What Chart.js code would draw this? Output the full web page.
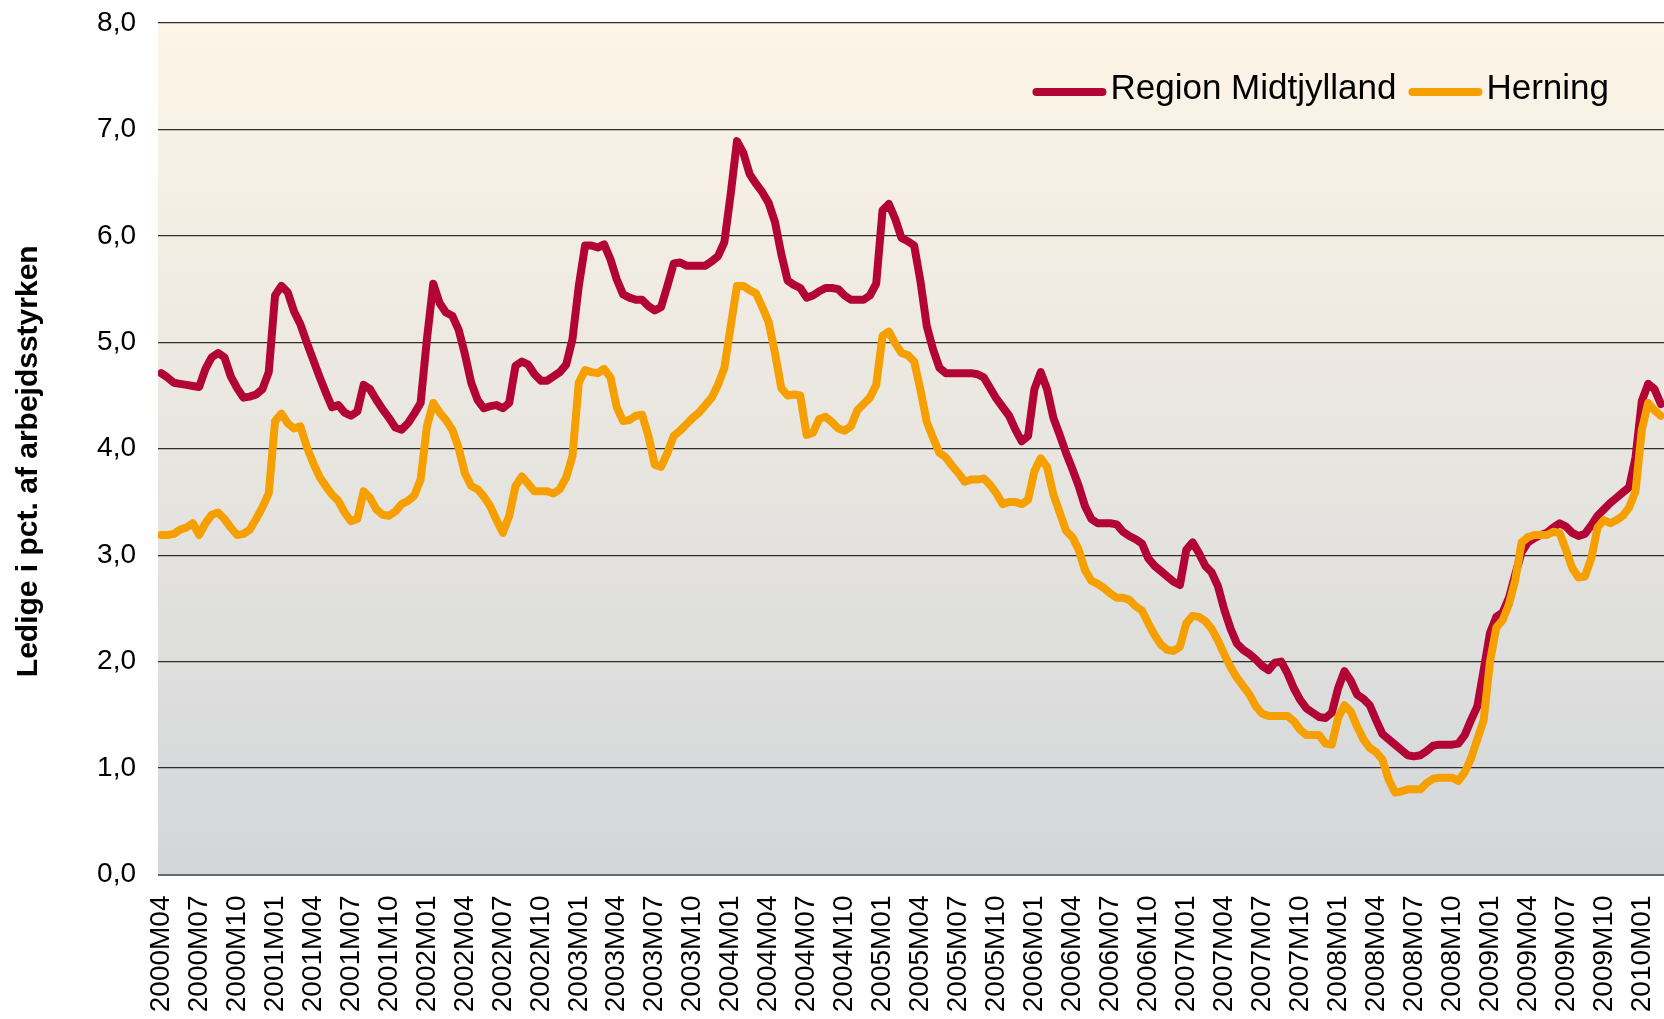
<!DOCTYPE html>
<html>
<head>
<meta charset="utf-8">
<script src="https://cdn.jsdelivr.net/npm/chart.js@4.4.0/dist/chart.umd.min.js"></script>
<style>
  html, body { margin: 0; padding: 0; background: #fff; }
</style>
</head>
<body>
<canvas id="chart" width="1664" height="1019"></canvas>
<script>
// labels on the x axis, one every three months
const tickLabels = [
  '2000M04', '2000M07', '2000M10',
  '2001M01', '2001M04', '2001M07', '2001M10',
  '2002M01', '2002M04', '2002M07', '2002M10',
  '2003M01', '2003M04', '2003M07', '2003M10',
  '2004M01', '2004M04', '2004M07', '2004M10',
  '2005M01', '2005M04', '2005M07', '2005M10',
  '2006M01', '2006M04', '2006M07', '2006M10',
  '2007M01', '2007M04', '2007M07', '2007M10',
  '2008M01', '2008M04', '2008M07', '2008M10',
  '2009M01', '2009M04', '2009M07', '2009M10',
  '2010M01'
];

const seriesNames = ['Region Midtjylland', 'Herning'];
const seriesColors = ['#b30535', '#f5a000'];

// readings every half month, starting 2000M04
const midtjylland = [
  4.71, 4.67, 4.62, 4.61, 4.60, 4.59, 4.58, 4.75, 4.86, 4.90, 4.86, 4.68,
  4.57, 4.48, 4.49, 4.51, 4.56, 4.72, 5.44, 5.53, 5.47, 5.29, 5.17, 5.00,
  4.84, 4.68, 4.53, 4.39, 4.41, 4.34, 4.31, 4.35, 4.60, 4.56, 4.46, 4.37,
  4.29, 4.20, 4.18, 4.24, 4.33, 4.43, 5.03, 5.55, 5.37, 5.28, 5.25, 5.12,
  4.89, 4.62, 4.46, 4.38, 4.40, 4.41, 4.38, 4.43, 4.78, 4.82, 4.79, 4.70,
  4.64, 4.64, 4.68, 4.72, 4.79, 5.03, 5.53, 5.91, 5.91, 5.89, 5.92, 5.78,
  5.59, 5.45, 5.42, 5.40, 5.40, 5.34, 5.30, 5.33, 5.53, 5.74, 5.75, 5.72,
  5.72, 5.72, 5.72, 5.76, 5.81, 5.94, 6.39, 6.89, 6.78, 6.58, 6.49, 6.41,
  6.31, 6.13, 5.83, 5.58, 5.54, 5.51, 5.42, 5.44, 5.48, 5.51, 5.51, 5.50,
  5.44, 5.40, 5.40, 5.40, 5.44, 5.55, 6.24, 6.30, 6.16, 5.98, 5.95, 5.91,
  5.57, 5.15, 4.93, 4.76, 4.71, 4.71, 4.71, 4.71, 4.71, 4.70, 4.67, 4.57,
  4.47, 4.39, 4.31, 4.18, 4.07, 4.12, 4.56, 4.72, 4.56, 4.29, 4.13, 3.96,
  3.81, 3.65, 3.46, 3.34, 3.30, 3.30, 3.30, 3.29, 3.22, 3.18, 3.15, 3.11,
  2.97, 2.90, 2.85, 2.80, 2.75, 2.72, 3.05, 3.12, 3.02, 2.90, 2.84, 2.71,
  2.49, 2.31, 2.17, 2.11, 2.07, 2.02, 1.96, 1.92, 1.99, 2.00, 1.89, 1.75,
  1.64, 1.56, 1.52, 1.48, 1.47, 1.52, 1.75, 1.91, 1.82, 1.69, 1.65, 1.59,
  1.45, 1.32, 1.27, 1.22, 1.17, 1.12, 1.11, 1.12, 1.16, 1.21, 1.22, 1.22,
  1.22, 1.23, 1.31, 1.45, 1.58, 1.92, 2.27, 2.42, 2.46, 2.60, 2.82, 3.03,
  3.12, 3.16, 3.19, 3.21, 3.26, 3.30, 3.27, 3.21, 3.18, 3.20, 3.28, 3.37,
  3.43, 3.49, 3.54, 3.59, 3.64, 3.92, 4.45, 4.61, 4.56, 4.42
];

const herning = [
  3.19, 3.19, 3.20, 3.24, 3.26, 3.30, 3.19, 3.30, 3.38, 3.40, 3.34, 3.26,
  3.19, 3.20, 3.24, 3.34, 3.45, 3.58, 4.26, 4.33, 4.24, 4.19, 4.21, 4.02,
  3.87, 3.74, 3.65, 3.57, 3.51, 3.40, 3.32, 3.34, 3.60, 3.54, 3.43, 3.38,
  3.37, 3.41, 3.48, 3.51, 3.56, 3.71, 4.21, 4.43, 4.34, 4.27, 4.18, 4.01,
  3.77, 3.65, 3.62, 3.55, 3.46, 3.33, 3.21, 3.37, 3.65, 3.74, 3.67, 3.60,
  3.60, 3.60, 3.58, 3.62, 3.73, 3.93, 4.62, 4.74, 4.72, 4.71, 4.75, 4.67,
  4.39, 4.26, 4.27, 4.31, 4.32, 4.12, 3.85, 3.83, 3.96, 4.12, 4.17, 4.23,
  4.29, 4.34, 4.41, 4.48, 4.60, 4.76, 5.15, 5.53, 5.53, 5.49, 5.46, 5.33,
  5.19, 4.90, 4.57, 4.50, 4.51, 4.50, 4.13, 4.15, 4.28, 4.30, 4.25, 4.19,
  4.17, 4.21, 4.36, 4.42, 4.48, 4.60, 5.06, 5.10, 4.99, 4.90, 4.88, 4.82,
  4.55, 4.25, 4.10, 3.96, 3.92, 3.84, 3.77, 3.69, 3.71, 3.71, 3.72, 3.66,
  3.58, 3.48, 3.50, 3.50, 3.48, 3.52, 3.79, 3.91, 3.83, 3.57, 3.40, 3.23,
  3.17, 3.05, 2.86, 2.76, 2.73, 2.69, 2.64, 2.60, 2.60, 2.58, 2.52, 2.48,
  2.36, 2.25, 2.16, 2.11, 2.10, 2.14, 2.36, 2.43, 2.42, 2.38, 2.31, 2.20,
  2.07, 1.95, 1.85, 1.77, 1.69, 1.58, 1.51, 1.49, 1.49, 1.49, 1.49, 1.44,
  1.36, 1.31, 1.31, 1.31, 1.23, 1.22, 1.47, 1.59, 1.53, 1.39, 1.27, 1.19,
  1.15, 1.08, 0.89, 0.77, 0.78, 0.80, 0.80, 0.80, 0.86, 0.90, 0.91, 0.91,
  0.91, 0.88, 0.96, 1.09, 1.27, 1.45, 2.00, 2.32, 2.39, 2.54, 2.77, 3.12,
  3.17, 3.19, 3.19, 3.19, 3.22, 3.21, 3.05, 2.88, 2.79, 2.80, 2.97, 3.26,
  3.33, 3.30, 3.33, 3.37, 3.45, 3.60, 4.18, 4.43, 4.36, 4.31
];

Chart.defaults.font.family = '"Liberation Sans", Arial, sans-serif';
Chart.defaults.color = '#000';

// x value is months since 2000M04
function toPoints(values) {
  return values.map((v, i) => ({ x: i / 2, y: v }));
}

const plotBackground = {
  id: 'plotBackground',
  beforeDraw(chart) {
    const { ctx, chartArea: a } = chart;
    const g = ctx.createLinearGradient(0, a.top, 0, a.bottom);
    g.addColorStop(0, '#fdf5e7');
    g.addColorStop(1, '#d3d6d9');
    ctx.save();
    ctx.fillStyle = g;
    ctx.fillRect(a.left, a.top, a.right - a.left, a.bottom - a.top);
    ctx.restore();
  }
};

// legend sits inside the plot, top right
const lineLegend = {
  id: 'lineLegend',
  afterDatasetsDraw(chart) {
    const { ctx, chartArea: a } = chart;
    const sets = chart.data.datasets;
    const y = a.top + 66.5;
    let x = a.right - 55;
    ctx.save();
    ctx.font = '35px "Liberation Sans", Arial, sans-serif';
    ctx.textBaseline = 'middle';
    ctx.fillStyle = '#000';
    ctx.lineWidth = 8;
    ctx.lineCap = 'round';
    for (let i = sets.length - 1; i >= 0; i--) {
      const w = ctx.measureText(sets[i].label).width;
      x -= w;
      ctx.fillText(sets[i].label, x, y);
      x -= 8;
      ctx.strokeStyle = sets[i].borderColor;
      ctx.beginPath();
      ctx.moveTo(x - 66, y + 2.5);
      ctx.lineTo(x, y + 2.5);
      ctx.stroke();
      x -= 66 + 16;
    }
    ctx.restore();
  }
};

const lineStyle = {
  borderWidth: 8,
  pointRadius: 0,
  pointHoverRadius: 0,
  tension: 0,
  borderJoinStyle: 'round',
  borderCapStyle: 'round',
  fill: false
};

new Chart(document.getElementById('chart'), {
  type: 'line',
  data: {
    datasets: [
      Object.assign({
        label: seriesNames[0],
        data: toPoints(midtjylland),
        borderColor: seriesColors[0],
        backgroundColor: seriesColors[0],
        order: 1
      }, lineStyle),
      Object.assign({
        label: seriesNames[1],
        data: toPoints(herning),
        borderColor: seriesColors[1],
        backgroundColor: seriesColors[1],
        order: 0
      }, lineStyle)
    ]
  },
  options: {
    responsive: false,
    animation: false,
    devicePixelRatio: 1,
    layout: { padding: { top: 23, left: 0, right: 0, bottom: 0 } },
    plugins: {
      legend: { display: false },
      tooltip: { enabled: false }
    },
    scales: {
      x: {
        type: 'linear',
        min: -0.25,
        max: 118.75,
        afterBuildTicks: scale => {
          scale.ticks = tickLabels.map((_, i) => ({ value: i * 3 }));
        },
        ticks: {
          autoSkip: false,
          minRotation: 90,
          maxRotation: 90,
          padding: 21,
          font: { size: 28 },
          callback: v => tickLabels[v / 3]
        },
        grid: { display: false, drawTicks: false },
        border: { display: false },
        afterFit: scale => {
          scale.height = 144.5;
          scale.paddingLeft = 0;
          scale.paddingRight = 0;
        }
      },
      y: {
        min: 0,
        max: 8,
        ticks: {
          stepSize: 1,
          padding: 22,
          font: { size: 28 },
          callback: v => v.toFixed(1).replace('.', ',')
        },
        grid: {
          drawTicks: false,
          color: c => c.tick && c.tick.value === 0 ? '#6a6a6a' : '#2e2e2e',
          lineWidth: c => c.tick && c.tick.value === 0 ? 2 : 1.2
        },
        border: { display: false },
        title: {
          display: true,
          // trailing spaces push the title a little below the axis middle, as in the original
          text: 'Ledige i pct. af arbejdsstyrken\u00a0\u00a0\u00a0',
          font: { size: 30, weight: 'bold' },
          padding: { top: 11, bottom: 0 }
        },
        afterFit: scale => {
          scale.width = 158;
          scale.paddingTop = 0;
          scale.paddingBottom = 0;
        }
      }
    }
  },
  plugins: [plotBackground, lineLegend]
});
</script>
</body>
</html>
